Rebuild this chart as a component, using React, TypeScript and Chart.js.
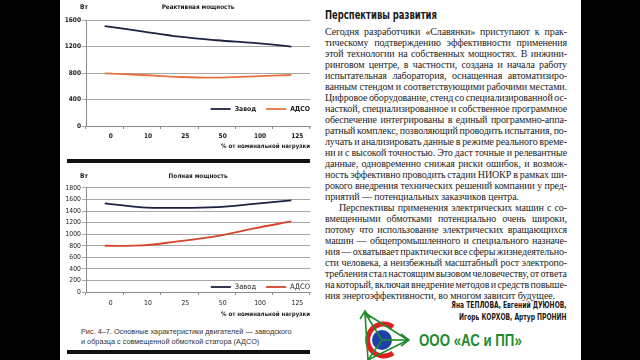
import React, { useEffect, useRef } from 'react';
import { Chart, registerables } from 'chart.js';
Chart.register(...registerables);

const categories = ['0', '10', '25', '50', '100', '125'];
const seriesLabels = ['Завод', 'АДСО'];
const reactiveZavod = [1510, 1430, 1350, 1295, 1255, 1200];
const reactiveAdso = [795, 770, 740, 730, 750, 770];
const fullZavod = [1535, 1465, 1455, 1470, 1525, 1585];
const fullAdso = [800, 805, 880, 965, 1100, 1220];
const reactiveTickStep = 400;
const reactiveMax = 1600;
const fullTickStep = 200;
const fullMax = 1800;
const xAxisTitle = '% от номинальной нагрузки';
const unitLabel = 'Вт';

const NARROW = "'Liberation Sans Narrow', 'DejaVu Sans Condensed', 'Roboto Condensed', Roboto, sans-serif";
const SANS = "'Liberation Sans', Arial, sans-serif";
const SERIF = "'Liberation Serif', 'DejaVu Serif', serif";

const insideLegend = {
  id: 'insideLegend',
  afterDatasetsDraw(chart: any, _a: any, opts: any) {
    const { ctx, chartArea } = chart;
    ctx.save();
    ctx.font = opts.font;
    ctx.textAlign = 'right';
    ctx.textBaseline = 'middle';
    const y = chartArea.bottom - opts.offsetY;
    let x = chartArea.right;
    const items = [...chart.data.datasets].reverse();
    for (const ds of items) {
      const w = ctx.measureText(ds.label).width;
      ctx.fillStyle = '#1a1a1a';
      ctx.fillText(ds.label, x, y);
      x -= w + 4;
      ctx.strokeStyle = ds.borderColor;
      ctx.lineWidth = 1.8;
      ctx.beginPath();
      ctx.moveTo(x - 20, y);
      ctx.lineTo(x, y);
      ctx.stroke();
      x -= 30;
    }
    ctx.restore();
  },
};

const unitPlugin = {
  id: 'unitPlugin',
  afterDraw(chart: any, _a: any, opts: any) {
    const { ctx, chartArea } = chart;
    ctx.save();
    ctx.font = opts.font;
    ctx.fillStyle = '#1a1a1a';
    ctx.textAlign = 'center';
    ctx.textBaseline = 'middle';
    ctx.fillText(opts.text, chartArea.left - 2, opts.y);
    ctx.restore();
  },
};

function makeConfig(p: any) {
  const tickFont = { family: NARROW, size: p.tickSize, weight: p.bold ? 'bold' : 'normal' };
  return {
    type: 'line',
    data: {
      labels: categories,
      datasets: [
        { label: seriesLabels[0], data: p.zavod, borderColor: '#1c2240', borderWidth: 1.8, tension: 0.4, pointRadius: 0, fill: false },
        { label: seriesLabels[1], data: p.adso, borderColor: p.adsoColor, borderWidth: 1.8, tension: 0.4, pointRadius: 0, fill: false },
      ],
    },
    options: {
      animation: false,
      responsive: false,
      layout: { padding: { left: 0, right: 5, top: 0, bottom: 0 } },
      plugins: {
        legend: { display: false },
        tooltip: { enabled: false },
        title: {
          display: true,
          text: p.title,
          fullSize: false,
          color: '#1a1a1a',
          font: { family: NARROW, size: 6.3, weight: 'bold' },
          padding: p.titlePad,
        },
        insideLegend: { font: `${p.bold ? 'bold ' : ''}${p.legendSize}px ${NARROW}`, offsetY: p.legendOffset },
        unitPlugin: { text: unitLabel, y: p.unitY, font: `bold 6.5px ${NARROW}` },
      },
      scales: {
        x: {
          type: 'category',
          offset: true,
          grid: { display: true, drawOnChartArea: false, drawTicks: true, tickLength: 3, offset: true, color: '#8a8a8a' },
          border: { display: true, color: '#8a8a8a', width: 1 },
          ticks: { font: tickFont, color: '#1a1a1a', padding: p.xPad, labelOffset: 6, maxRotation: 0, autoSkip: false },
          title: {
            display: true,
            text: xAxisTitle,
            align: 'end',
            color: '#1a1a1a',
            font: { family: NARROW, size: 6.1, weight: 'bold' },
            padding: { top: 0, bottom: p.xTitlePad },
          },
          afterFit: (s: any) => { s.height = 29; },
        },
        y: {
          min: 0,
          max: p.max,
          ticks: { stepSize: p.step, font: tickFont, color: '#1a1a1a', padding: 1, callback: (v: any) => String(v) },
          grid: { color: '#a8a8a8', tickLength: 4, drawTicks: true },
          border: { display: true, color: '#8a8a8a', width: 1 },
          afterFit: (s: any) => { s.width = 26; },
        },
      },
    },
    plugins: [insideLegend, unitPlugin],
  };
}

function ChartCanvas({ config, style }: any) {
  const ref = useRef<HTMLCanvasElement>(null);
  useEffect(() => {
    const c = new Chart(ref.current as HTMLCanvasElement, config);
    return () => c.destroy();
  }, []);
  return <canvas ref={ref} width={255} height={155} style={{ position: 'absolute', width: 255, height: 155, ...style }} />;
}

const topConfig = makeConfig({
  title: 'Реактивная мощность', zavod: reactiveZavod, adso: reactiveAdso, adsoColor: '#e8733f',
  max: reactiveMax, step: reactiveTickStep, bold: true, tickSize: 6.5, legendSize: 6.8,
  titlePad: { top: 3.5, bottom: 9 }, legendOffset: 17, unitY: 7, xPad: 3, xTitlePad: 5,
});
const bottomConfig = makeConfig({
  title: 'Полная мощность', zavod: fullZavod, adso: fullAdso, adsoColor: '#d4452b',
  max: fullMax, step: fullTickStep, bold: false, tickSize: 6.8, legendSize: 7.5,
  titlePad: { top: 6.3, bottom: 8.1 }, legendOffset: 5, unitY: 10, xPad: 4, xTitlePad: 3,
});

const para1 = [
  'Сегодня разработчики «Славянки» приступают к прак-',
  'тическому подтверждению эффективности применения',
  'этой технологии на собственных мощностях. В инжини-',
  'ринговом центре, в частности, создана и начала работу',
  'испытательная лаборатория, оснащенная автоматизиро-',
  'ванным стендом и соответствующими рабочими местами.',
  'Цифровое оборудование, стенд со специализированной ос-',
  'насткой, специализированное и собственное программное',
  'обеспечение интегрированы в единый программно-аппа-',
  'ратный комплекс, позволяющий проводить испытания, по-',
  'лучать и анализировать данные в режиме реального време-',
  'ни и с высокой точностью. Это даст точные и релевантные',
  'данные, одновременно снижая риски ошибок, и возмож-',
  'ность эффективно проводить стадии НИОКР в рамках ши-',
  'рокого внедрения технических решений компании у пред-',
  'приятий — потенциальных заказчиков центра.',
];
const para2 = [
  'Перспективы применения электрических машин с со-',
  'вмещенными обмотками потенциально очень широки,',
  'потому что использование электрических вращающихся',
  'машин — общепромышленного и специального назначе-',
  'ния — охватывает практически все сферы жизнедеятельно-',
  'сти человека, а неизбежный масштабный рост электропо-',
  'требления стал настоящим вызовом человечеству, от ответа',
  'на который, включая внедрение методов и средств повыше-',
  'ния энергоэффективности, во многом зависит будущее.',
];

function TextLine({ text, last, indent }: any) {
  if (last) {
    return <div style={{ height: 11, lineHeight: '11px', whiteSpace: 'nowrap', paddingLeft: indent ? 14 : 0 }}>{text}</div>;
  }
  const words = text.split(' ');
  return (
    <div style={{ height: 11, lineHeight: '11px', whiteSpace: 'nowrap', display: 'flex', justifyContent: 'space-between', paddingLeft: indent ? 14 : 0 }}>
      {words.map((w: string, i: number) => <span key={i}>{w}</span>)}
    </div>
  );
}

function Logo() {
  return (
    <svg style={{ position: 'absolute', left: 355, top: 305 }} width={60} height={55} viewBox="0 0 60 55">
      <path d="M 38 22 A 16 16 0 1 0 38 48" fill="none" stroke="#e02020" strokeWidth={5} />
      <circle cx={27} cy={35} r={10} fill="#1f3fa8" />
      <g stroke="#1f8a2e" strokeWidth={1.6} fill="none">
        <line x1={10} y1={8} x2={53} y2={35} />
        <line x1={53} y1={35} x2={13} y2={55} />
        <line x1={10} y1={8} x2={13} y2={55} />
        <line x1={27} y1={35} x2={10} y2={8} />
        <line x1={27} y1={35} x2={53} y2={35} />
        <line x1={27} y1={35} x2={13} y2={55} />
        <polyline points="5,14 10,6 15,13" />
        <polyline points="46,29 54,35 46,41" />
      </g>
    </svg>
  );
}

export default function App() {
  return (
    <div style={{ position: 'absolute', left: 0, top: 0, width: 640, height: 360, background: '#000', overflow: 'hidden' }}>
      <div style={{ position: 'absolute', left: 60, top: 0, width: 521, height: 360, background: '#fff' }} />
      <ChartCanvas config={topConfig} style={{ left: 60, top: 0 }} />
      <div style={{ position: 'absolute', left: 67, top: 159, width: 243, height: 4, background: '#111' }} />
      <ChartCanvas config={bottomConfig} style={{ left: 60, top: 166 }} />
      <div style={{ position: 'absolute', left: 81, top: 326.5, width: 240, fontFamily: SANS, fontSize: 7.3, lineHeight: '10.5px', color: '#333', whiteSpace: 'nowrap' }}>
        <div>Рис. 4–7. Основные характеристики двигателей — заводского</div>
        <div>и образца с совмещенной обмоткой статора (АДСО)</div>
      </div>
      <div style={{ position: 'absolute', left: 67, top: 350, width: 243, height: 4, background: '#111' }} />

      <div style={{ position: 'absolute', left: 325, top: 8, fontFamily: NARROW, fontWeight: 'bold', fontSize: 12.5, lineHeight: '14px', color: '#1a1a1a', whiteSpace: 'nowrap', transform: 'scaleX(0.75)', transformOrigin: 'left center' }}>
        Перспективы развития
      </div>
      <div style={{ position: 'absolute', left: 325, top: 25.5, width: 242, fontFamily: SERIF, fontSize: 10, letterSpacing: '-0.12px', color: '#1e1e1e' }}>
        {para1.map((t, i) => <TextLine key={'a' + i} text={t} last={i === para1.length - 1} />)}
        {para2.map((t, i) => <TextLine key={'b' + i} text={t} indent={i === 0} last={i === para2.length - 1} />)}
      </div>
      <div style={{ position: 'absolute', right: 640 - 567, top: 298.5, textAlign: 'right', fontFamily: NARROW, fontWeight: 'bold', fontSize: 9.5, lineHeight: '12px', color: '#1a1a1a', whiteSpace: 'nowrap', transform: 'scaleX(0.7)', transformOrigin: 'right center' }}>
        <div>Яна ТЕПЛОВА, Евгений ДУЮНОВ,</div>
        <div>Игорь КОРХОВ, Артур ПРОНИН</div>
      </div>
      <Logo />
      <div style={{ position: 'absolute', left: 419, top: 331, fontFamily: SANS, fontWeight: 'bold', fontSize: 17, lineHeight: '20px', color: '#1f8a2e', whiteSpace: 'nowrap', transform: 'scaleX(0.78)', transformOrigin: 'left center' }}>
        ООО «АС и ПП»
      </div>
    </div>
  );
}
